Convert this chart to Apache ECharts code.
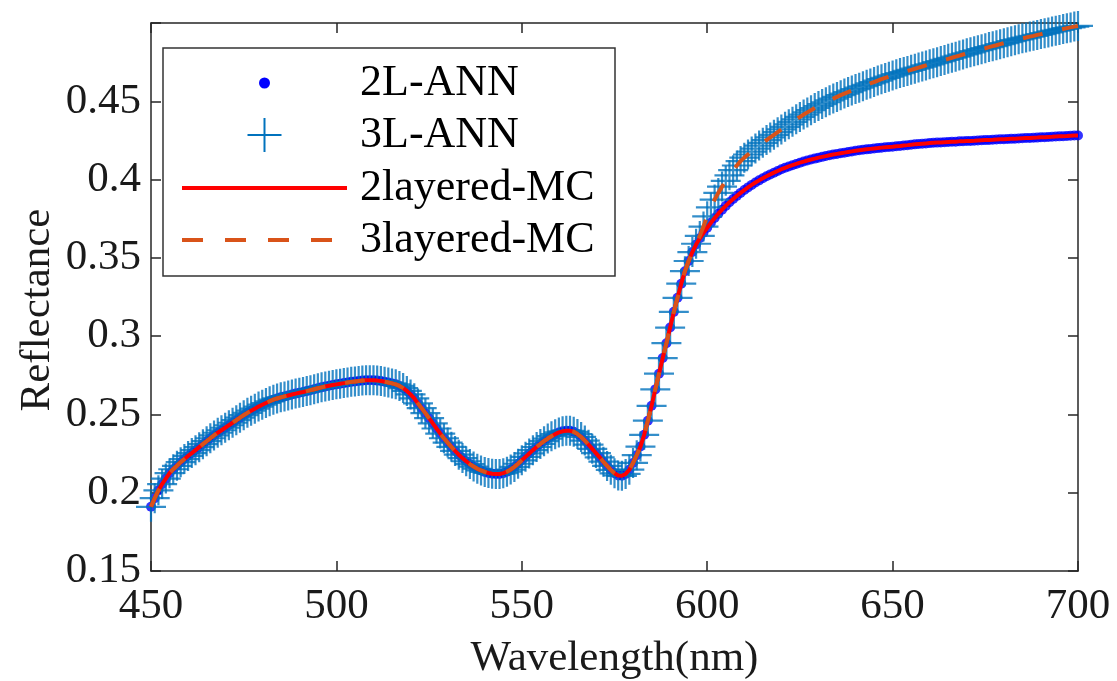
<!DOCTYPE html>
<html>
<head>
<meta charset="utf-8">
<script src="https://cdn.jsdelivr.net/npm/echarts@6/dist/echarts.min.js"></script>
<style>
  html, body { margin: 0; padding: 0; background: #ffffff; }
  #chart { width: 1117px; height: 681px; }
</style>
</head>
<body>
<div id="chart"></div>
<script>
// Wavelength grid (nm), sampled every 1 nm from 450 to 700
const wavelength = [];
for (let w = 450; w <= 700; w++) wavelength.push(w);

// Two-layer Monte Carlo reflectance, 450..700 nm
const mc2Layer = [
  0.1910, 0.1965, 0.2015, 0.2055, 0.2090, 0.2125, 0.2150, 0.2172, 0.2195, 0.2215,
  0.2235, 0.2253, 0.2272, 0.2291, 0.2310, 0.2329, 0.2348, 0.2366, 0.2383, 0.2399,
  0.2415, 0.2431, 0.2447, 0.2463, 0.2479, 0.2495, 0.2510, 0.2524, 0.2537, 0.2550,
  0.2562, 0.2573, 0.2584, 0.2594, 0.2602, 0.2609, 0.2615, 0.2621, 0.2627, 0.2633,
  0.2638, 0.2643, 0.2649, 0.2655, 0.2661, 0.2667, 0.2673, 0.2678, 0.2683, 0.2688,
  0.2692, 0.2696, 0.2700, 0.2704, 0.2708, 0.2711, 0.2714, 0.2716, 0.2718, 0.2719,
  0.2718, 0.2716, 0.2713, 0.2709, 0.2704, 0.2698, 0.2692, 0.2682, 0.2668, 0.2650,
  0.2628, 0.2603, 0.2570, 0.2540, 0.2508, 0.2476, 0.2443, 0.2410, 0.2378, 0.2348,
  0.2320, 0.2293, 0.2267, 0.2243, 0.2221, 0.2201, 0.2183, 0.2167, 0.2153, 0.2142,
  0.2133, 0.2126, 0.2121, 0.2119, 0.2120, 0.2125, 0.2134, 0.2148, 0.2165, 0.2185,
  0.2207, 0.2229, 0.2251, 0.2272, 0.2292, 0.2311, 0.2329, 0.2346, 0.2361, 0.2374,
  0.2385, 0.2392, 0.2396, 0.2395, 0.2389, 0.2375, 0.2356, 0.2333, 0.2307, 0.2280,
  0.2253, 0.2226, 0.2198, 0.2171, 0.2146, 0.2124, 0.2110, 0.2108, 0.2120, 0.2147,
  0.2190, 0.2240, 0.2295, 0.2370, 0.2460, 0.2555, 0.2660, 0.2760, 0.2860, 0.2955,
  0.3055, 0.3155, 0.3245, 0.3335, 0.3415, 0.3480, 0.3537, 0.3585, 0.3625, 0.3660,
  0.3692, 0.3724, 0.3754, 0.3782, 0.3808, 0.3832, 0.3855, 0.3876, 0.3896, 0.3915,
  0.3933, 0.3950, 0.3966, 0.3981, 0.3995, 0.4008, 0.4021, 0.4033, 0.4044, 0.4055,
  0.4066, 0.4075, 0.4084, 0.4092, 0.4100, 0.4108, 0.4115, 0.4122, 0.4128, 0.4134,
  0.4140, 0.4145, 0.4150, 0.4155, 0.4160, 0.4164, 0.4168, 0.4172, 0.4176, 0.4180,
  0.4184, 0.4187, 0.4190, 0.4193, 0.4196, 0.4199, 0.4201, 0.4204, 0.4206, 0.4208,
  0.4210, 0.4213, 0.4215, 0.4218, 0.4220, 0.4223, 0.4225, 0.4227, 0.4229, 0.4231,
  0.4233, 0.4235, 0.4236, 0.4237, 0.4239, 0.4240, 0.4241, 0.4242, 0.4244, 0.4245,
  0.4246, 0.4247, 0.4248, 0.4250, 0.4251, 0.4252, 0.4253, 0.4254, 0.4256, 0.4257,
  0.4258, 0.4259, 0.4260, 0.4261, 0.4263, 0.4264, 0.4265, 0.4266, 0.4267, 0.4268,
  0.4270, 0.4271, 0.4272, 0.4273, 0.4275, 0.4276, 0.4277, 0.4278, 0.4280, 0.4281,
  0.4282
];

// Three-layer Monte Carlo reflectance, 450..700 nm
const mc3Layer = [
  0.1910, 0.1965, 0.2015, 0.2055, 0.2090, 0.2125, 0.2150, 0.2172, 0.2195, 0.2215,
  0.2235, 0.2253, 0.2272, 0.2291, 0.2310, 0.2329, 0.2348, 0.2366, 0.2383, 0.2399,
  0.2415, 0.2431, 0.2447, 0.2463, 0.2479, 0.2495, 0.2510, 0.2524, 0.2537, 0.2550,
  0.2562, 0.2573, 0.2584, 0.2594, 0.2602, 0.2609, 0.2615, 0.2621, 0.2627, 0.2633,
  0.2638, 0.2643, 0.2649, 0.2655, 0.2661, 0.2667, 0.2673, 0.2678, 0.2683, 0.2688,
  0.2692, 0.2696, 0.2700, 0.2704, 0.2708, 0.2711, 0.2714, 0.2716, 0.2718, 0.2719,
  0.2718, 0.2716, 0.2713, 0.2709, 0.2704, 0.2698, 0.2692, 0.2682, 0.2668, 0.2650,
  0.2628, 0.2603, 0.2570, 0.2540, 0.2508, 0.2476, 0.2443, 0.2410, 0.2378, 0.2348,
  0.2320, 0.2293, 0.2267, 0.2243, 0.2221, 0.2201, 0.2183, 0.2167, 0.2153, 0.2142,
  0.2133, 0.2126, 0.2121, 0.2119, 0.2120, 0.2125, 0.2134, 0.2148, 0.2165, 0.2185,
  0.2207, 0.2229, 0.2251, 0.2272, 0.2292, 0.2311, 0.2329, 0.2346, 0.2361, 0.2374,
  0.2385, 0.2392, 0.2396, 0.2395, 0.2389, 0.2375, 0.2356, 0.2333, 0.2307, 0.2280,
  0.2253, 0.2226, 0.2198, 0.2171, 0.2146, 0.2124, 0.2110, 0.2108, 0.2120, 0.2147,
  0.2190, 0.2240, 0.2295, 0.2370, 0.2460, 0.2555, 0.2660, 0.2760, 0.2860, 0.2955,
  0.3055, 0.3155, 0.3245, 0.3335, 0.3415, 0.3480, 0.3537, 0.3590, 0.3640, 0.3700,
  0.3765, 0.3822, 0.3872, 0.3915, 0.3955, 0.3992, 0.4027, 0.4060, 0.4090, 0.4118,
  0.4140, 0.4160, 0.4179, 0.4198, 0.4217, 0.4235, 0.4252, 0.4269, 0.4286, 0.4303,
  0.4320, 0.4337, 0.4353, 0.4369, 0.4385, 0.4400, 0.4415, 0.4429, 0.4443, 0.4457,
  0.4470, 0.4482, 0.4494, 0.4506, 0.4517, 0.4528, 0.4539, 0.4549, 0.4559, 0.4569,
  0.4578, 0.4587, 0.4596, 0.4605, 0.4614, 0.4623, 0.4632, 0.4641, 0.4649, 0.4657,
  0.4665, 0.4673, 0.4680, 0.4687, 0.4694, 0.4701, 0.4708, 0.4715, 0.4722, 0.4729,
  0.4736, 0.4743, 0.4750, 0.4757, 0.4764, 0.4771, 0.4778, 0.4785, 0.4792, 0.4799,
  0.4806, 0.4813, 0.4820, 0.4826, 0.4833, 0.4839, 0.4846, 0.4852, 0.4858, 0.4865,
  0.4871, 0.4877, 0.4884, 0.4890, 0.4896, 0.4902, 0.4907, 0.4913, 0.4918, 0.4924,
  0.4929, 0.4935, 0.4940, 0.4946, 0.4951, 0.4956, 0.4962, 0.4967, 0.4972, 0.4977,
  0.4981
];

// Neural-network predictions (they sit on top of the Monte Carlo curves)
const ann2Layer = mc2Layer;
const ann3Layer = mc3Layer;

const seriesNames = ['2L-ANN', '3L-ANN', '2layered-MC', '3layered-MC'];
const xTicks = { min: 450, max: 700, step: 50 };
const yTicks = { min: 0.15, max: 0.5, step: 0.05 };

const pairs = (ys) => wavelength.map((w, i) => [w, ys[i]]);

const FONT = '"Liberation Serif", "Times New Roman", serif';
const AXIS_COLOR = '#262626';
const DOT_COLOR = '#0000ff';
const PLUS_COLOR = '#0072bd';
const RED = '#ff0000';
const ORANGE = '#d95319';
const PLUS = 'path://M0,10L20,10M10,0L10,20';

const chart = echarts.init(document.getElementById('chart'), null, { renderer: 'canvas' });

const axisCommon = {
  axisLine: { show: true, onZero: false, lineStyle: { color: AXIS_COLOR, width: 1.5 } },
  axisTick: { show: true, inside: true, length: 10, lineStyle: { color: AXIS_COLOR, width: 1.5 } },
  splitLine: { show: false }
};

// Legend box: icon column 182..347, labels from x = 360
const legendBox = { x: 163, y: 48, w: 452, h: 228 };
const legendRows = [83, 135, 188, 240];
const iconLeft = 182, iconRight = 347, iconMid = 264.5, labelX = 360;

function legendLabel(text, y) {
  return {
    type: 'text', z: 11, silent: true,
    style: {
      x: labelX, y: y, text: text,
      font: '44px ' + FONT, fill: '#000000',
      textAlign: 'left', textVerticalAlign: 'middle'
    }
  };
}

const legendGraphics = [
  {
    type: 'rect', z: 10, silent: true,
    shape: { x: legendBox.x, y: legendBox.y, width: legendBox.w, height: legendBox.h },
    style: { fill: '#ffffff', stroke: '#333333', lineWidth: 1.5 }
  },
  {
    type: 'circle', z: 11, silent: true,
    shape: { cx: iconMid, cy: legendRows[0], r: 5.5 },
    style: { fill: DOT_COLOR }
  },
  {
    type: 'line', z: 11, silent: true,
    shape: { x1: iconMid - 17, y1: legendRows[1], x2: iconMid + 17, y2: legendRows[1] },
    style: { stroke: PLUS_COLOR, lineWidth: 2 }
  },
  {
    type: 'line', z: 11, silent: true,
    shape: { x1: iconMid, y1: legendRows[1] - 17, x2: iconMid, y2: legendRows[1] + 17 },
    style: { stroke: PLUS_COLOR, lineWidth: 2 }
  },
  {
    type: 'line', z: 11, silent: true,
    shape: { x1: iconLeft, y1: legendRows[2], x2: iconRight, y2: legendRows[2] },
    style: { stroke: RED, lineWidth: 4 }
  },
  {
    type: 'line', z: 11, silent: true,
    shape: { x1: iconLeft, y1: legendRows[3], x2: iconRight, y2: legendRows[3] },
    style: { stroke: ORANGE, lineWidth: 4, lineDash: [21, 22] }
  },
  legendLabel(seriesNames[0], legendRows[0]),
  legendLabel(seriesNames[1], legendRows[1]),
  legendLabel(seriesNames[2], legendRows[2]),
  legendLabel(seriesNames[3], legendRows[3])
];

chart.setOption({
  animation: false,
  backgroundColor: '#ffffff',
  grid: { left: 151, right: 39, top: 23, bottom: 110, containLabel: false, outerBoundsMode: 'none' },
  xAxis: [
    Object.assign({
      type: 'value', position: 'bottom',
      min: xTicks.min, max: xTicks.max, interval: xTicks.step,
      name: 'Wavelength(nm)', nameLocation: 'middle', nameGap: 66, nameMoveOverlap: false,
      nameTextStyle: { fontFamily: FONT, fontSize: 43, color: '#1a1a1a' },
      axisLabel: { fontFamily: FONT, fontSize: 43, color: '#1a1a1a', margin: 14 }
    }, axisCommon),
    Object.assign({
      type: 'value', position: 'top',
      min: xTicks.min, max: xTicks.max, interval: xTicks.step,
      axisLabel: { show: false }
    }, axisCommon)
  ],
  yAxis: [
    Object.assign({
      type: 'value', position: 'left',
      min: yTicks.min, max: yTicks.max, interval: yTicks.step,
      name: 'Reflectance', nameLocation: 'middle', nameGap: 92, nameMoveOverlap: false,
      nameTextStyle: { fontFamily: FONT, fontSize: 43, color: '#1a1a1a', padding: [0, 26, 0, 0] },
      axisLabel: {
        fontFamily: FONT, fontSize: 43, color: '#1a1a1a', margin: 10,
        formatter: (v) => (Math.abs(v - 0.5) < 1e-9 ? '' : String(+v.toFixed(2)))
      }
    }, axisCommon),
    Object.assign({
      type: 'value', position: 'right',
      min: yTicks.min, max: yTicks.max, interval: yTicks.step,
      axisLabel: { show: false }
    }, axisCommon)
  ],
  graphic: legendGraphics,
  series: [
    {
      name: seriesNames[0], type: 'scatter', data: pairs(ann2Layer),
      symbol: 'circle', symbolSize: 10,
      itemStyle: { color: DOT_COLOR }
    },
    {
      name: seriesNames[1], type: 'scatter', data: pairs(ann3Layer),
      symbol: PLUS, symbolSize: 30,
      itemStyle: { color: PLUS_COLOR, borderColor: PLUS_COLOR, borderWidth: 2.2 }
    },
    {
      name: seriesNames[2], type: 'line', data: pairs(mc2Layer),
      symbol: 'none',
      lineStyle: { color: RED, width: 4 },
      itemStyle: { color: RED }
    },
    {
      name: seriesNames[3], type: 'line', data: pairs(mc3Layer),
      symbol: 'none',
      lineStyle: { color: ORANGE, width: 4, type: [20, 20] },
      itemStyle: { color: ORANGE }
    }
  ]
});
</script>
</body>
</html>
